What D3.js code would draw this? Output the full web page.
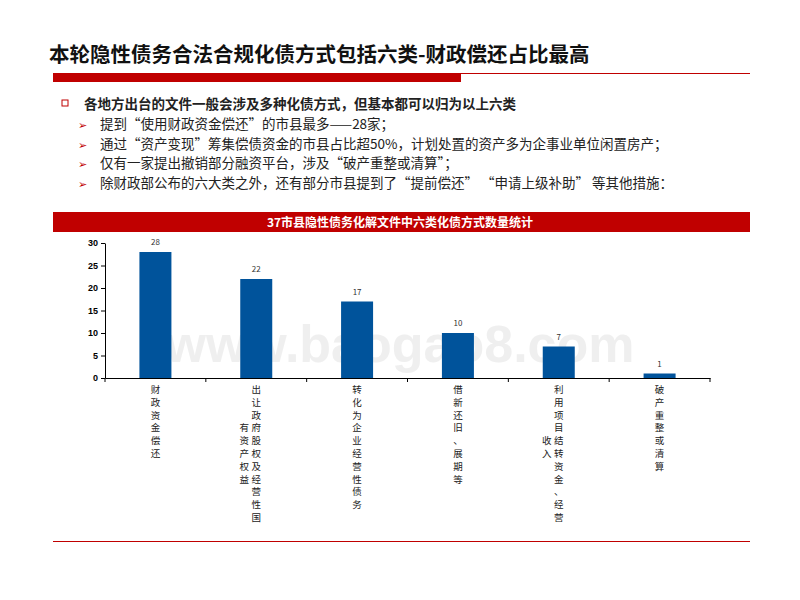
<!DOCTYPE html>
<html><head><meta charset="utf-8">
<script src="https://cdn.jsdelivr.net/npm/d3@7"></script>
<style>body{margin:0;background:#fff}svg{font-family:"Noto Sans CJK SC",sans-serif}</style>
</head><body><svg id="c" width="800" height="600"></svg>
<script>
const categories = ["财政资金偿还", "出让政府股权及经营性国有资产权益", "转化为企业经营性债务", "借新还旧、展期等", "利用项目结转资金、经营收入", "破产重整或清算"];
// label columns: [right column, left column, left column start row]
const labelCols = [["财政资金偿还"], ["出让政府股权及经营性国", "有资产权益", 3], ["转化为企业经营性债务"], ["借新还旧、展期等"], ["利用项目结转资金、经营", "收入", 4], ["破产重整或清算"]];
const values = [28, 22, 17, 10, 7, 1];
const yTicks = [0, 5, 10, 15, 20, 25, 30];
const bullets = ["提到“使用财政资金偿还”的市县最多——28家；", "通过“资产变现”筹集偿债资金的市县占比超50%，计划处置的资产多为企事业单位闲置房产；", "仅有一家提出撤销部分融资平台，涉及“破产重整或清算”；", "除财政部公布的六大类之外，还有部分市县提到了“提前偿还” “申请上级补助”  等其他措施："];

const svg = d3.select("#c");
svg.append("text").attr("x", 49).attr("y", 62).attr("font-size", 20.5).attr("font-weight", "bold").attr("fill", "#111").text("本轮隐性债务合法合规化债方式包括六类-财政偿还占比最高");
svg.append("rect").attr("x", 53).attr("y", 73).attr("width", 408).attr("height", 9).attr("fill", "#c00000");
svg.append("line").attr("x1", 461).attr("x2", 750).attr("y1", 73.5).attr("y2", 73.5).attr("stroke", "#c00000");
svg.append("rect").attr("x", 62).attr("y", 100).attr("width", 6).attr("height", 6).attr("fill", "none").attr("stroke", "#c00000");
svg.append("text").attr("x", 84).attr("y", 109).attr("font-size", 13.5).attr("font-weight", "bold").attr("fill", "#222").text("各地方出台的文件一般会涉及多种化债方式，但基本都可以归为以上六类");
bullets.forEach((b, i) => {
  const y = 129 + i * 19.5;
  svg.append("text").attr("x", 78).attr("y", y).attr("font-size", 11).attr("fill", "#c00000").text("➢");
  svg.append("text").attr("x", 100).attr("y", y).attr("font-size", 13.5).attr("fill", "#222").text(b);
});
svg.append("rect").attr("x", 53).attr("y", 212).attr("width", 697).attr("height", 20).attr("fill", "#c00000");
svg.append("text").attr("x", 400).attr("y", 227).attr("text-anchor", "middle").attr("font-size", 12).attr("font-weight", "bold").attr("fill", "#fff").text("37市县隐性债务化解文件中六类化债方式数量统计");

svg.append("text").attr("x", 400).attr("y", 362).attr("text-anchor", "middle").attr("font-size", 52).attr("font-family", "Liberation Sans, sans-serif").attr("font-weight", "bold").attr("fill", "#ccc").attr("opacity", 0.3).text("www.baogao8.com");

const x = d3.scaleBand().domain(categories).range([105, 710]);
const y = d3.scaleLinear().domain([0, 30]).range([378, 243]);
const g = svg.append("g");
g.append("g").attr("transform", "translate(105,0)").call(d3.axisLeft(y).tickValues(yTicks).tickSize(4).tickSizeOuter(0))
  .call(a => a.selectAll("text").attr("font-size", 9).attr("font-weight", "bold").attr("font-family", "Liberation Sans"));
g.append("g").attr("transform", "translate(0,378)").call(d3.axisBottom(x).tickValues([]).tickSizeOuter(0));
x.domain().concat([null]).forEach((c, i) => {
  const px = 105 + i * x.bandwidth();
  g.append("line").attr("x1", px).attr("x2", px).attr("y1", 378).attr("y2", 382).attr("stroke", "#000");
});
g.selectAll(".bar").data(values).join("rect")
  .attr("x", (d, i) => x(categories[i]) + x.bandwidth() / 2 - 16).attr("width", 32)
  .attr("y", d => y(d)).attr("height", d => y(0) - y(d)).attr("fill", "#00539b");
g.selectAll(".val").data(values).join("text")
  .attr("x", (d, i) => x(categories[i]) + x.bandwidth() / 2).attr("y", d => y(d) - 7)
  .attr("text-anchor", "middle").attr("font-size", 8).attr("fill", "#333").text(d => d);
labelCols.forEach((lc, i) => {
  const cx = x(categories[i]) + x.bandwidth() / 2;
  const cols = [[lc[0], cx, 0]];
  if (lc[1]) cols.push([lc[1], cx - 12, lc[2]]);
  cols.forEach(([s, px, r0]) => {
    [...s].forEach((ch, k) => {
      svg.append("text").attr("x", px).attr("y", 393 + (k + r0) * 12.8).attr("text-anchor", "middle")
        .attr("font-size", 9.5).attr("fill", "#222").text(ch);
    });
  });
});
svg.append("line").attr("x1", 53).attr("x2", 750).attr("y1", 541.5).attr("y2", 541.5).attr("stroke", "#c00000");
</script></body></html>
